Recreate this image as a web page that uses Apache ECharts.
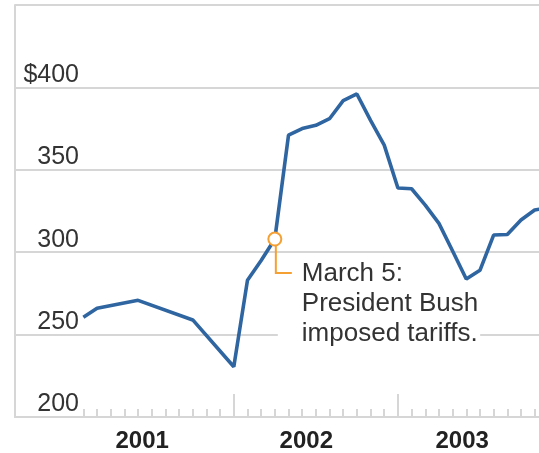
<!DOCTYPE html>
<html>
<head>
<meta charset="utf-8">
<script src="https://cdn.jsdelivr.net/npm/echarts@6/dist/echarts.min.js"></script>
<style>
html,body{margin:0;padding:0;background:#fff;}
#chart{width:539px;height:453px;}
</style>
</head>
<body>
<div id="chart"></div>
<script>
// Months relative to January 2002 (0 = Jan 2002)
const months = [-11, -10, -7, -3, 0, 1, 2, 3, 4, 5, 6, 7, 8, 9, 10, 11, 12, 13, 14, 15, 16, 17, 18, 19, 20, 21, 22, 23];
const prices = [260.5, 266, 270.8, 258.9, 230.5, 283, 295, 308, 371, 375, 377, 381, 392, 396, 380, 365, 339, 338.5, 328.6, 317.5, 300.7, 283.7, 289, 310.4, 310.7, 319.5, 325.6, 327];
const yearLabels = ['2001', '2002', '2003'];
const yearLabelPos = [-6.7, 5.3, 16.7];
const majorTicks = [0, 12];
const minorTicks = [];
for (let m = -11; m <= 22; m++) minorTicks.push(m);
const yTickLabels = {200: '200', 250: '250', 300: '300', 350: '350', 400: '$400'};
const annotation = {month: 3, value: 308, text: 'March 5:\nPresident Bush\nimposed tariffs.'};

const chart = echarts.init(document.getElementById('chart'));
const gridCol = '#d6d6d6';
const xMin = -16, xMax = -16 + 524 / 13.675;
const option = {
  animation: false,
  backgroundColor: '#fff',
  grid: {left: 15, right: 0, top: 5, bottom: 36, show: false},
  xAxis: [
    {
      type: 'value', min: xMin, max: xMax,
      axisLine: {show: true, onZero: false, lineStyle: {color: gridCol, width: 2}},
      axisTick: {show: true, inside: true, length: 8, customValues: minorTicks, lineStyle: {color: gridCol, width: 2}},
      axisLabel: {
        show: true, customValues: yearLabelPos, margin: 12,
        fontFamily: 'Liberation Sans, Arial, sans-serif', fontSize: 24, fontWeight: 'bold', color: '#222',
        formatter: function (v) {
          let best = 0;
          for (let i = 0; i < yearLabelPos.length; i++) if (Math.abs(yearLabelPos[i] - v) < Math.abs(yearLabelPos[best] - v)) best = i;
          return yearLabels[best];
        }
      },
      splitLine: {show: false}
    },
    {
      type: 'value', min: xMin, max: xMax, position: 'bottom',
      axisLine: {show: false, onZero: false},
      axisTick: {show: true, inside: true, length: 23, customValues: majorTicks, lineStyle: {color: gridCol, width: 2}},
      axisLabel: {show: false},
      splitLine: {show: false}
    }
  ],
  yAxis: {
    type: 'value', min: 200, max: 450, interval: 50,
    axisLine: {show: true, onZero: false, lineStyle: {color: gridCol, width: 2}},
    axisTick: {show: false},
    axisLabel: {
      margin: -64, align: 'right', verticalAlign: 'bottom',
      fontFamily: 'Liberation Sans, Arial, sans-serif', fontSize: 25, color: '#333',
      padding: [0, 0, 0, 0],
      formatter: function (v) { return yTickLabels[v] || ''; }
    },
    splitLine: {show: true, lineStyle: {color: gridCol, width: 2}}
  },
  series: [{
    type: 'line',
    xAxisIndex: 0,
    data: months.map((m, i) => [m, prices[i]]),
    showSymbol: false,
    lineStyle: {color: '#2f65a0', width: 3.6},
    z: 3
  }]
};
chart.setOption(option);

const p = chart.convertToPixel({xAxisIndex: 0, yAxisIndex: 0}, [annotation.month, annotation.value]);
const orange = '#f5a033';
chart.setOption({
  graphic: [
    {
      type: 'text', z: 1, left: p[0] + 3, top: p[1] + 20,
      style: {
        text: annotation.text, fontFamily: 'Liberation Sans, Arial, sans-serif', fontSize: 26, lineHeight: 30,
        fill: '#333', backgroundColor: '#fff', padding: [0, 2, 2, 24]
      }
    },
    {
      type: 'polyline', z: 11,
      shape: {points: [[p[0] + 1, p[1] + 7], [p[0] + 1, p[1] + 34], [p[0] + 17, p[1] + 34]]},
      style: {stroke: orange, lineWidth: 2, fill: null}
    },
    {
      type: 'circle', z: 12,
      shape: {cx: p[0], cy: p[1], r: 6.5},
      style: {stroke: orange, lineWidth: 2, fill: '#fff'}
    }
  ]
});
</script>
</body>
</html>
